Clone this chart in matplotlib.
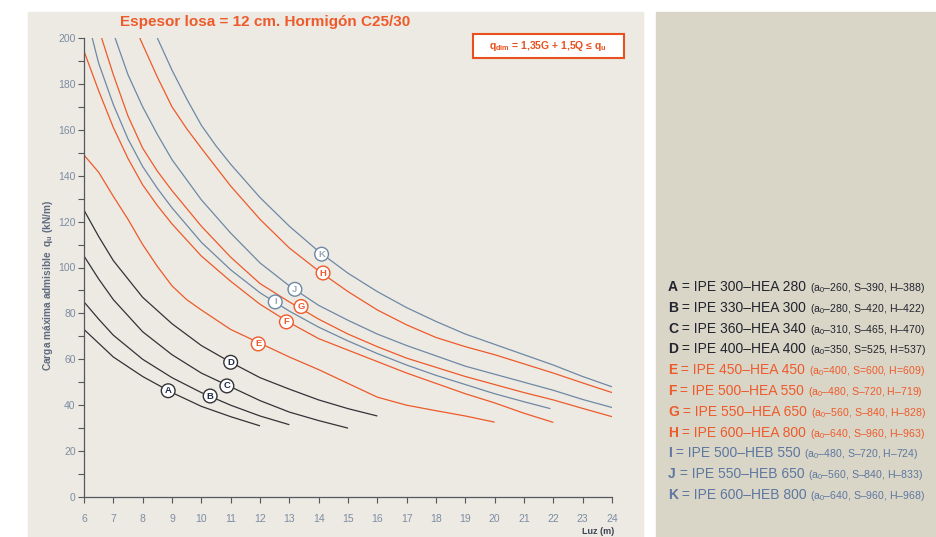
import matplotlib
matplotlib.use("Agg")
import matplotlib.pyplot as plt
from matplotlib.patches import Rectangle

# curves: luz (m) -> carga maxima admisible (kN/m)
A_x = [6, 6.5, 7, 8, 9, 10, 11, 12]
A_y = [73, 67, 61, 52.5, 45.5, 39.5, 35, 31]
B_x = [6, 6.5, 7, 8, 9, 10, 11, 12, 13]
B_y = [85, 77.5, 70.5, 60, 52, 45.5, 40, 35.3, 31.5]
C_x = [6, 6.5, 7, 8, 9, 10, 11, 12, 13, 14, 15]
C_y = [105, 95, 86, 72, 62, 54, 48, 42, 37, 33.3, 30]
D_x = [6, 6.5, 7, 8, 9, 10, 11, 12, 13, 14, 15, 16]
D_y = [125, 113.5, 103, 87, 75.5, 66, 58.7, 52, 47, 42.3, 38.5, 35.3]
E_x = [6, 6.5, 7, 7.5, 8, 8.5, 9, 9.5, 10, 11, 12, 13, 14, 15, 16, 17, 18, 19, 20]
E_y = [149, 141.5, 131, 121, 110, 100.5, 92, 86, 81.5, 73, 67, 61, 55.5, 49.5, 43.5, 40, 37.6, 35.3, 32.6]
F_x = [5.95, 6.5, 7, 7.5, 8, 8.5, 9, 10, 11, 12, 13, 14, 15, 16, 17, 18, 19, 20, 21, 22]
F_y = [196, 177, 161, 147.5, 136, 127, 119, 105, 94, 84, 76, 69, 64, 59, 54, 49.5, 45, 41, 36.5, 32.5]
G_x = [6.6, 7, 7.5, 8, 8.5, 9, 10, 11, 12, 13, 14, 15, 16, 17, 18, 19, 20, 21, 22, 23, 24]
G_y = [200, 184, 166, 152, 142, 133.5, 118, 104.5, 93, 85, 77.5, 71, 65.5, 60.5, 56.5, 52.5, 49, 45.5, 42.3, 38.6, 35]
H_x = [7.9, 8.5, 9, 9.5, 10, 11, 12, 13, 14, 15, 16, 17, 18, 19, 20, 21, 22, 23, 24]
H_y = [200, 183, 170, 160.5, 152, 135.5, 121, 108.5, 98.5, 89.5, 81.5, 75, 69.5, 65.5, 62, 58, 54, 49.7, 45.5]
I_x = [6.28, 6.5, 7, 7.5, 8, 8.5, 9, 10, 11, 12, 13, 14, 15, 16, 17, 18, 19, 20, 21, 21.9]
I_y = [200, 189, 171, 156, 144, 134.5, 126, 111, 99, 89, 81, 74, 68, 62.5, 57.5, 53, 49, 45, 41.5, 38.5]
J_x = [7.06, 7.5, 8, 8.5, 9, 10, 11, 12, 13, 14, 15, 16, 17, 18, 19, 20, 21, 22, 23, 24]
J_y = [200, 184, 170, 158, 147, 129.5, 115, 102, 92, 83.5, 77, 71, 66, 61.5, 57, 53.5, 50, 46.5, 42.5, 39]
K_x = [8.5, 9, 9.5, 10, 10.5, 11, 12, 13, 14, 15, 16, 17, 18, 19, 20, 21, 22, 23, 24]
K_y = [200, 186, 173.5, 162, 153, 145, 130.5, 118, 107, 97.5, 89.5, 82.5, 76.5, 71, 66.5, 62, 57.5, 52.5, 48]

letters = ["A", "B", "C", "D", "E", "F", "G", "H", "I", "J", "K"]
# where the circled letter sits on each curve
label_x = [8.87, 10.3, 10.87, 11.0, 11.94, 12.9, 13.4, 14.15, 12.52, 13.19, 14.1]
label_y = [46.3, 44, 48.4, 58.7, 66.7, 76.3, 83, 97.6, 85, 90.5, 105.8]

profiles = ["IPE 300\u2013HEA 280", "IPE 330\u2013HEA 300", "IPE 360\u2013HEA 340",
            "IPE 400\u2013HEA 400", "IPE 450\u2013HEA 450", "IPE 500\u2013HEA 550",
            "IPE 550\u2013HEA 650", "IPE 600\u2013HEA 800", "IPE 500\u2013HEB 550",
            "IPE 550\u2013HEB 650", "IPE 600\u2013HEB 800"]
dims = ["(a$_0$\u2013260, S\u2013390, H\u2013388)", "(a$_0$\u2013280, S\u2013420, H\u2013422)",
        "(a$_0$\u2013310, S\u2013465, H\u2013470)", "(a$_0$=350, S=525, H=537)",
        "(a$_0$=400, S=600, H=609)", "(a$_0$\u2013480, S\u2013720, H\u2013719)",
        "(a$_0$\u2013560, S\u2013840, H\u2013828)", "(a$_0$\u2013640, S\u2013960, H\u2013963)",
        "(a$_0$\u2013480, S\u2013720, H\u2013724)", "(a$_0$\u2013560, S\u2013840, H\u2013833)",
        "(a$_0$\u2013640, S\u2013960, H\u2013968)"]

xticks = list(range(6, 25))
yticks = list(range(0, 201, 20))

black = "#333338"
orange = "#EE5A2B"
blue = "#6E88A6"
curve_colors = [black] * 4 + [orange] * 4 + [blue] * 3
letter_colors = ["#1f2a44"] * 4 + [orange] * 4 + ["#9aa6b6"] * 3
legend_colors = ["#22242e"] * 4 + [orange] * 4 + ["#5d77a0"] * 3
tick_color = "#7d8ca3"

plt.rcParams["font.family"] = ["Liberation Sans", "DejaVu Sans"]
plt.rcParams["mathtext.fontset"] = "custom"
plt.rcParams["mathtext.rm"] = "Liberation Sans"

fig = plt.figure(figsize=(9.36, 5.37), dpi=100)
W, H = 936, 537

# panel backgrounds
fig.patches.append(Rectangle((28 / W, 0), (643 - 28) / W, 1 - 12 / H,
                             transform=fig.transFigure, color="#ECEAE2", zorder=-10))
fig.patches.append(Rectangle((656 / W, 0), (W - 656) / W, 1 - 12 / H,
                             transform=fig.transFigure, color="#D9D6C7", zorder=-10))

ax = fig.add_axes([84 / W, 1 - 497 / H, (612 - 84) / W, (497 - 38) / H])
ax.set_facecolor("none")

xs = [A_x, B_x, C_x, D_x, E_x, F_x, G_x, H_x, I_x, J_x, K_x]
ys = [A_y, B_y, C_y, D_y, E_y, F_y, G_y, H_y, I_y, J_y, K_y]
for x, y, c in zip(xs, ys, curve_colors):
    ax.plot(x, y, color=c, lw=0.9, solid_capstyle="butt", solid_joinstyle="round")

for i in range(len(letters)):
    ax.text(label_x[i], label_y[i], letters[i], fontsize=6.8, fontweight="bold",
            color=letter_colors[i], ha="center", va="center", zorder=5,
            bbox=dict(boxstyle="circle,pad=0.25", fc="white", ec=curve_colors[i], lw=1.0))

ax.set_xlim(6, 24)
ax.set_ylim(0, 200)
ax.set_xticks(xticks)
ax.set_yticks(yticks)
ax.set_yticks(range(10, 200, 20), minor=True)
for s in ["top", "right"]:
    ax.spines[s].set_visible(False)
for s in ["left", "bottom"]:
    ax.spines[s].set_color("#55585e")
    ax.spines[s].set_linewidth(0.9)
ax.tick_params(which="both", direction="out", length=4, width=0.8, color="#55585e",
               labelsize=7.5, labelcolor=tick_color, pad=2)
ax.tick_params(axis="x", pad=8)

fig.text(48 / W, 1 - 285 / H, "Carga máxima admisible  q$_\\mathregular{u}$ (kN/m)",
         rotation=90, ha="center", va="center", fontsize=7.3, fontweight="bold",
         color="#5f6b80")
fig.text(598 / W, 1 - 531 / H, "Luz (m)", ha="center", va="center", fontsize=6.5,
         fontweight="bold", color="#3c4558")

fig.text(265 / W, 1 - 22 / H, "Espesor losa = 12 cm. Hormigón C25/30",
         ha="center", va="center", fontsize=11, fontweight="bold", color=orange)

# formula box
fig.patches.append(Rectangle((473 / W, 1 - 58 / H), 151 / W, 24 / H,
                             transform=fig.transFigure, fc="white", ec="#E8501E",
                             lw=1.5, zorder=3))
fig.text(548 / W, 1 - 46 / H, "q$_\\mathregular{dim}$ = 1,35G + 1,5Q \u2264 q$_\\mathregular{u}$",
         ha="center", va="center", fontsize=7.5, fontweight="bold", color="#E8501E",
         zorder=4)

# legend on the right panel
renderer = fig.canvas.get_renderer()
row_y = [291 + 20.8 * i for i in range(11)]
for i in range(11):
    x0 = 668
    y0 = 1 - row_y[i] / H
    parts = [(letters[i], 10, "bold"), (" = " + profiles[i] + " ", 10, "normal"),
             (dims[i], 7.6, "normal")]
    for txt, size, weight in parts:
        t = fig.text(x0 / W, y0, txt, fontsize=size, fontweight=weight,
                     color=legend_colors[i], ha="left", va="baseline")
        bb = t.get_window_extent(renderer)
        x0 += bb.width

fig.savefig("out.png", dpi=100)
